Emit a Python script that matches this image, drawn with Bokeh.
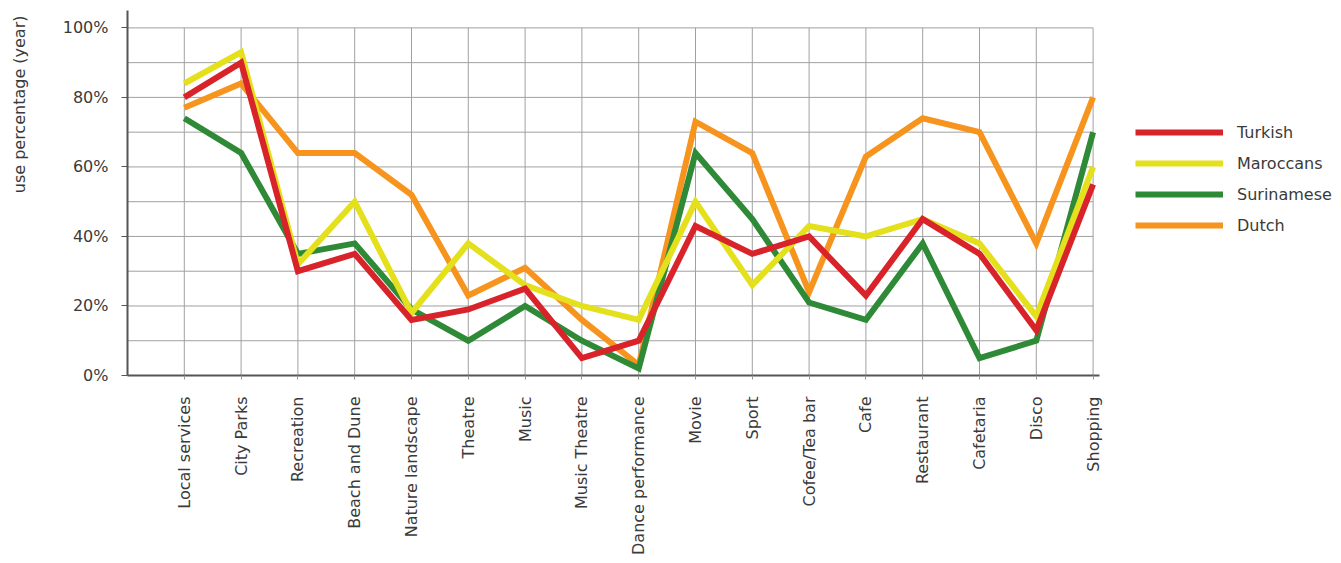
import numpy as np
from bokeh.plotting import figure
from bokeh.models import Range1d, FixedTicker, Legend, LegendItem, Title
from bokeh.embed import file_html
from bokeh.resources import INLINE

categories = ["Local services", "City Parks", "Recreation", "Beach and Dune", "Nature landscape",
              "Theatre", "Music", "Music Theatre", "Dance performance", "Movie", "Sport",
              "Cofee/Tea bar", "Cafe", "Restaurant", "Cafetaria", "Disco", "Shopping"]
turkish    = [80, 90, 30, 35, 16, 19, 25, 5, 10, 43, 35, 40, 23, 45, 35, 13, 55]
maroccans  = [84, 93, 32, 50, 18, 38, 26, 20, 16, 50, 26, 43, 40, 45, 38, 17, 60]
surinamese = [74, 64, 35, 38, 19, 10, 20, 10, 2, 64, 45, 21, 16, 38, 5, 10, 70]
dutch      = [77, 84, 64, 64, 52, 23, 31, 16, 3, 73, 64, 24, 63, 74, 70, 38, 80]
series_names = ["Turkish", "Maroccans", "Surinamese", "Dutch"]
y_ticks = [0, 20, 40, 60, 80, 100]
y_tick_labels = ["0%", "20%", "40%", "60%", "80%", "100%"]
y_grid = [0, 10, 20, 30, 40, 50, 60, 70, 80, 90, 100]

colors = {"Turkish": "#d9232a", "Maroccans": "#e4e01c", "Surinamese": "#2f8a38", "Dutch": "#f7941e"}
FONT = "DejaVu Sans"
FS = "16px"
TXT = "#3a3a3a"
GRID = "#a0a0a0"

idx = list(range(len(categories)))
n = len(categories)

FRAME_W = 1211
STEP = 56.8  # px per category
x_start = -1
x_end = x_start + FRAME_W / STEP

p = figure(frame_width=FRAME_W, frame_height=365, output_backend="svg", toolbar_location=None,
           x_range=Range1d(x_start, x_end), y_range=Range1d(0, 105))
p.min_border_left = 127
p.min_border_top = 10
p.min_border_bottom = 180
p.min_border_right = 0
p.outline_line_color = None
p.background_fill_color = "white"

# grid (drawn as segments so it stops at the data area)
p.xgrid.visible = False
p.ygrid.visible = False
p.segment(x0=[x_start] * len(y_grid), y0=y_grid, x1=[idx[-1]] * len(y_grid), y1=y_grid,
          line_color=GRID, line_width=1)
p.segment(x0=idx, y0=[y_grid[0]] * n, x1=idx, y1=[y_grid[-1]] * n,
          line_color=GRID, line_width=1)

# axes
p.xaxis.bounds = (x_start, idx[-1] + 0.12)
p.xaxis.ticker = FixedTicker(ticks=idx)
p.xaxis.major_label_overrides = {i: c for i, c in zip(idx, categories)}
p.xaxis.major_label_orientation = np.pi / 2
p.xaxis.minor_tick_line_color = None
p.xaxis.major_tick_out = 4
p.xaxis.major_tick_in = 0
p.xaxis.major_tick_line_color = "#999999"
p.xaxis.axis_line_color = "#555555"
p.xaxis.axis_line_width = 2
p.xaxis.major_label_standoff = 17
p.xaxis.major_label_text_font = FONT
p.xaxis.major_label_text_font_size = FS
p.xaxis.major_label_text_color = TXT

p.yaxis.ticker = FixedTicker(ticks=y_ticks)
p.yaxis.major_label_overrides = {t: l for t, l in zip(y_ticks, y_tick_labels)}
p.yaxis.minor_tick_line_color = None
p.yaxis.major_tick_out = 6
p.yaxis.major_tick_in = 0
p.yaxis.major_tick_line_color = "#555555"
p.yaxis.axis_line_color = "#555555"
p.yaxis.axis_line_width = 2
p.yaxis.major_label_standoff = 13
p.yaxis.major_label_text_font = FONT
p.yaxis.major_label_text_font_size = FS
p.yaxis.major_label_text_color = TXT

ylab = Title(text="use percentage (year)\n ", align="right", vertical_align="top",
             offset=5, standoff=19,
             text_font=FONT, text_font_size=FS, text_font_style="normal", text_color=TXT)
p.add_layout(ylab, "left")

data = {"Turkish": turkish, "Maroccans": maroccans, "Surinamese": surinamese, "Dutch": dutch}
renderers = {}
for name in ["Dutch", "Surinamese", "Maroccans", "Turkish"]:
    renderers[name] = p.line(idx, data[name], line_color=colors[name], line_width=6,
                             line_join="miter")

legend = Legend(items=[LegendItem(label=s, renderers=[renderers[s]]) for s in series_names],
                location=(1008, 136))
legend.glyph_width = 88
legend.glyph_height = 28
legend.label_height = 28
legend.spacing = 3
legend.padding = 0
legend.margin = 0
legend.label_standoff = 14
legend.border_line_color = None
legend.background_fill_alpha = 0
legend.label_text_font = FONT
legend.label_text_font_size = FS
legend.label_text_color = TXT
p.add_layout(legend, "center")

open("out.html", "w").write(file_html(p, INLINE))
